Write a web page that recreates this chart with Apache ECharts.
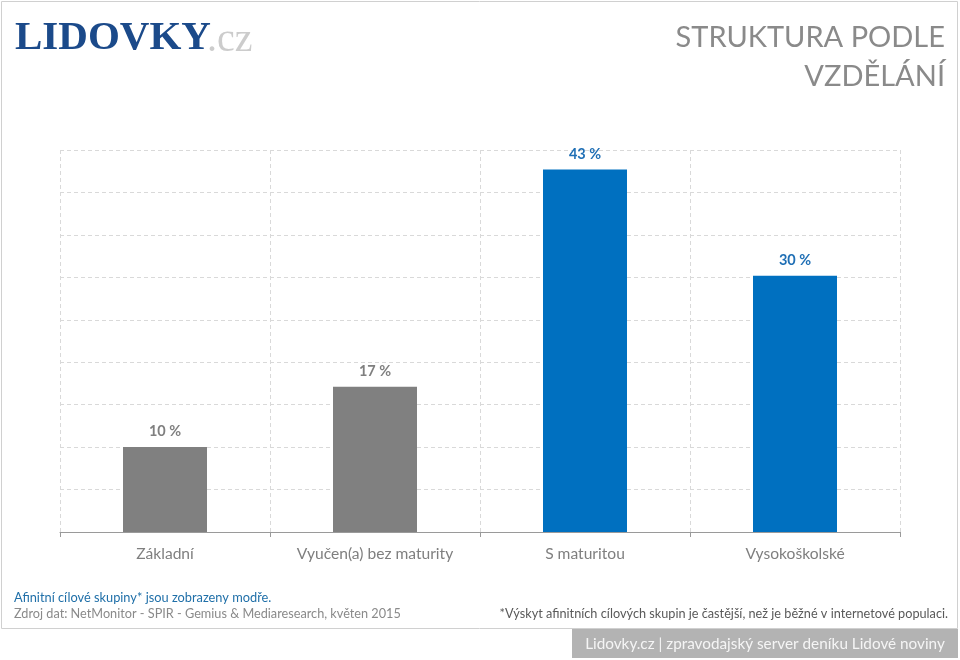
<!DOCTYPE html>
<html><head><meta charset="utf-8">
<script src="https://cdn.jsdelivr.net/npm/echarts@6/dist/echarts.min.js"></script>
<style>html,body{margin:0;padding:0;background:#fff}#c{width:960px;height:660px}</style>
</head><body><div id="c"></div>
<script>
const categories = ['Základní', 'Vyučen(a) bez maturity', 'S maturitou', 'Vysokoškolské'];
const values = [10, 17.1, 42.7, 30.2];
const affinity = [false, false, true, true];
const titleLines = ['STRUKTURA PODLE', 'VZDĚLÁNÍ'];

const GRAY = '#808080', BLUE = '#0070c0';
const F = 'Lato, "Open Sans", sans-serif';
const chart = echarts.init(document.getElementById('c'));
chart.setOption({
  animation: false,
  grid: { left: 60, right: 60, top: 150, bottom: 128 },
  xAxis: {
    type: 'category', data: categories, boundaryGap: true,
    axisLine: { lineStyle: { color: '#9a9a9a', width: 1 } },
    axisTick: { show: true, length: 5, lineStyle: { color: '#9a9a9a' } },
    axisLabel: { color: '#7f7f7f', fontSize: 15.6, fontFamily: F, margin: 14 },
    splitLine: { show: true, lineStyle: { type: [4, 3], color: '#d9d9d9' } }
  },
  yAxis: {
    type: 'value', min: 0, max: 45, interval: 5,
    axisLabel: { show: false }, axisLine: { show: false }, axisTick: { show: false },
    splitLine: { show: true, lineStyle: { type: [4, 3], color: '#d9d9d9' } }
  },
  series: [{
    type: 'bar', barWidth: '40%',
    data: values.map((v, i) => ({
      value: v,
      itemStyle: { color: affinity[i] ? BLUE : GRAY },
      label: { color: affinity[i] ? '#1f6fb5' : '#7f7f7f' }
    })),
    label: { show: true, position: 'top', distance: 8, formatter: p => Math.round(p.value) + ' %',
             fontSize: 14.5, fontWeight: 'bold', fontFamily: F }
  }],
  graphic: [
    { type: 'rect', shape: { x: 1.5, y: 1.5, width: 956, height: 627 }, style: { fill: 'none', stroke: '#d0d0d0', lineWidth: 1 }, silent: true },
    { type: 'text', left: 15, top: 18, style: { text: 'LIDOVKY', font: 'bold 41px "Liberation Serif", serif', fill: '#1b4a8a' } },
    { type: 'text', left: 207, top: 20, style: { text: '.cz', font: '40px "Liberation Serif", serif', fill: '#cccccc' } },
    { type: 'text', x: 945, y: 38, style: { text: titleLines[0], font: '29px ' + F, fill: '#8a8a8a', align: 'right', verticalAlign: 'middle' } },
    { type: 'text', x: 945, y: 77, style: { text: titleLines[1], font: '29px ' + F, fill: '#8a8a8a', align: 'right', verticalAlign: 'middle' } },
    { type: 'text', x: 14, y: 598, style: { text: 'Afinitní cílové skupiny* jsou zobrazeny modře.', font: '12.8px ' + F, fill: '#1f6fa8', verticalAlign: 'middle' } },
    { type: 'text', x: 14, y: 614, style: { text: 'Zdroj dat: NetMonitor - SPIR - Gemius & Mediaresearch, květen 2015', font: '12.7px ' + F, fill: '#8a8a8a', verticalAlign: 'middle' } },
    { type: 'text', x: 948, y: 614, style: { text: '*Výskyt afinitních cílových skupin je častější, než je běžné v internetové populaci.', font: '12.7px ' + F, fill: '#595959', align: 'right', verticalAlign: 'middle' } },
    { type: 'rect', shape: { x: 572, y: 629, width: 386, height: 29 }, style: { fill: '#b3b3b3' } },
    { type: 'text', x: 765, y: 644, style: { text: 'Lidovky.cz | zpravodajský server deníku Lidové noviny', font: '15.3px ' + F, fill: '#f5f5f5', align: 'center', verticalAlign: 'middle' } }
  ]
});
</script></body></html>
